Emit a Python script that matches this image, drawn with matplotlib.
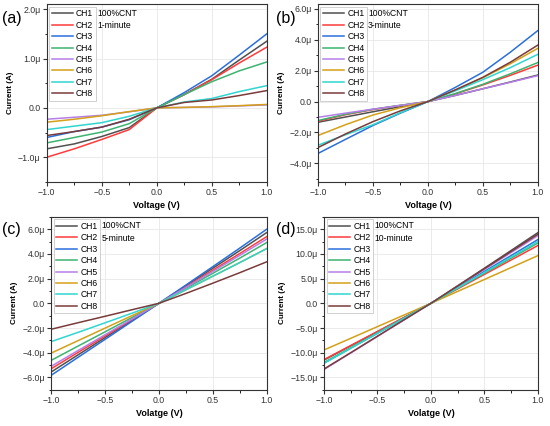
import matplotlib
matplotlib.use('Agg')
import matplotlib.pyplot as plt
from matplotlib.ticker import MultipleLocator, FuncFormatter

plt.rcParams['font.family'] = ['Liberation Sans', 'DejaVu Sans']

# voltage sweep points (V)
volts = [-1.0, -0.75, -0.5, -0.25, 0.0, 0.25, 0.5, 0.75, 1.0]
channels = ['CH1', 'CH2', 'CH3', 'CH4', 'CH5', 'CH6', 'CH7', 'CH8']
colors = ['#505050', '#ff3a3a', '#2a6fdc', '#3cb371', '#b57ee8',
          '#d4a017', '#2fd6d0', '#7a3b3b']

# currents in uA, one list per channel
cur_1min = [
    [-0.83, -0.73, -0.58, -0.40, 0, 0.27, 0.58, 0.97, 1.35],
    [-1.00, -0.83, -0.64, -0.44, 0, 0.27, 0.57, 0.91, 1.23],
    [-0.60, -0.48, -0.39, -0.24, 0, 0.31, 0.65, 1.07, 1.50],
    [-0.71, -0.60, -0.49, -0.32, 0, 0.27, 0.53, 0.75, 0.93],
    [-0.23, -0.19, -0.15, -0.08, 0, 0.01, 0.02, 0.04, 0.06],
    [-0.29, -0.23, -0.16, -0.075, 0, 0.01, 0.025, 0.045, 0.07],
    [-0.44, -0.37, -0.30, -0.17, 0, 0.12, 0.19, 0.33, 0.45],
    [-0.56, -0.48, -0.39, -0.23, 0, 0.11, 0.16, 0.25, 0.35],
]
cur_3min = [
    [-1.34, -1.00, -0.66, -0.33, 0, 0.40, 0.83, 1.27, 1.72],
    [-1.28, -0.85, -0.52, -0.25, 0, 0.50, 1.08, 1.70, 2.36],
    [-3.36, -2.45, -1.55, -0.75, 0, 0.92, 1.90, 3.20, 4.60],
    [-1.23, -0.82, -0.50, -0.24, 0, 0.52, 1.12, 1.80, 2.53],
    [-1.02, -0.75, -0.49, -0.25, 0, 0.40, 0.83, 1.25, 1.68],
    [-2.20, -1.50, -0.87, -0.40, 0, 0.75, 1.55, 2.45, 3.45],
    [-2.83, -2.15, -1.50, -0.72, 0, 0.70, 1.42, 2.20, 3.06],
    [-2.98, -2.10, -1.30, -0.60, 0, 0.76, 1.57, 2.55, 3.66],
]
cur_5min = [
    [-5.56, -4.17, -2.78, -1.39, 0, 1.41, 2.84, 4.27, 5.73],
    [-5.30, -3.97, -2.65, -1.32, 0, 1.33, 2.68, 4.03, 5.40],
    [-5.83, -4.37, -2.92, -1.46, 0, 1.48, 2.97, 4.47, 6.00],
    [-4.62, -3.46, -2.31, -1.15, 0, 1.21, 2.43, 3.66, 4.92],
    [-5.10, -3.82, -2.55, -1.27, 0, 1.28, 2.58, 3.88, 5.20],
    [-4.03, -3.02, -2.01, -1.00, 0, 1.09, 2.19, 3.30, 4.43],
    [-3.10, -2.35, -1.58, -0.80, 0, 1.10, 2.20, 3.30, 4.43],
    [-2.10, -1.57, -1.05, -0.52, 0, 0.80, 1.63, 2.48, 3.36],
]
cur_10min = [
    [-11.5, -8.6, -5.75, -2.87, 0, 3.55, 7.1, 10.7, 14.3],
    [-11.4, -8.55, -5.7, -2.85, 0, 2.92, 5.85, 8.77, 11.7],
    [-12.1, -9.07, -6.05, -3.02, 0, 3.22, 6.45, 9.67, 12.9],
    [-12.0, -9.0, -6.0, -3.0, 0, 3.05, 6.1, 9.15, 12.2],
    [-13.4, -10.05, -6.7, -3.35, 0, 3.42, 6.85, 10.27, 13.7],
    [-9.45, -7.09, -4.72, -2.36, 0, 2.41, 4.82, 7.24, 9.65],
    [-12.15, -9.1, -6.07, -3.03, 0, 3.12, 6.25, 9.37, 12.5],
    [-13.3, -10.0, -6.65, -3.32, 0, 3.5, 7.0, 10.5, 14.0],
]

panels = [
    ('(a)', '1-minute', cur_1min, (-1.5, 2.1), 1.0, 0.5, 'Voltage (V)'),
    ('(b)', '3-minute', cur_3min, (-5.2, 6.3), 2.0, 1.0, 'Voltage (V)'),
    ('(c)', '5-minute', cur_5min, (-7.0, 7.0), 2.0, 1.0, 'Volatge (V)'),
    ('(d)', '10-minute', cur_10min, (-17.5, 17.5), 5.0, 2.5, 'Volatge (V)'),
]
positions = [
    [0.085, 0.573, 0.400, 0.417],
    [0.578, 0.573, 0.400, 0.417],
    [0.093, 0.085, 0.392, 0.406],
    [0.589, 0.085, 0.389, 0.406],
]
tag_xy = [(0.004, 0.975), (0.502, 0.975), (0.004, 0.478), (0.502, 0.478)]


def ufmt(v, pos):
    if abs(v) < 1e-9:
        return '0.0'
    return ('%.1f\u03bc' % v).replace('-', '\u2212')


fig = plt.figure(figsize=(5.5, 4.26), dpi=100)
axes, legends, durs = [], [], []
for (tag, dur, data, ylim, major, minor, xlab), rect, txy in zip(panels, positions, tag_xy):
    ax = fig.add_axes(rect)
    for ch, col, vals in zip(channels, colors, data):
        ax.plot(volts, vals, color=col, lw=1.1, label=ch)
    ax.set_xlim(-1, 1)
    ax.set_ylim(*ylim)
    ax.xaxis.set_major_locator(MultipleLocator(0.5))
    ax.xaxis.set_minor_locator(MultipleLocator(0.25))
    ax.yaxis.set_major_locator(MultipleLocator(major))
    ax.yaxis.set_minor_locator(MultipleLocator(minor))
    ax.yaxis.set_major_formatter(FuncFormatter(ufmt))
    ax.tick_params(direction='out', labelsize=6.3, length=3, width=0.8, pad=1.5,
                   colors='#333333')
    ax.tick_params(which='minor', direction='out', length=1.8, width=0.6)
    ax.grid(True, color='#e8e8e8', lw=0.6)
    ax.set_axisbelow(True)
    for sp in ax.spines.values():
        sp.set_linewidth(0.8)
        sp.set_color('#333333')
    ax.set_xlabel(xlab, fontsize=6.5, fontweight='bold', labelpad=3)
    ax.set_ylabel('Current (A)', fontsize=5.8, fontweight='bold', labelpad=3)
    leg = ax.legend(loc='upper left', fontsize=6.2, frameon=True, fancybox=False,
                    borderaxespad=0.3, borderpad=0.3, labelspacing=0.28,
                    handlelength=2.4, handletextpad=0.4)
    leg.get_frame().set_edgecolor('#bbbbbb')
    leg.get_frame().set_linewidth(0.6)
    fig.text(txy[0], txy[1], tag, fontsize=11.5, va='top', ha='left')
    axes.append(ax)
    legends.append(leg)
    durs.append(dur)

# put the sample note just right of each legend box
fig.canvas.draw()
for ax, leg, dur in zip(axes, legends, durs):
    bb = leg.get_window_extent().transformed(ax.transAxes.inverted())
    ax.text(bb.x1 + 0.005, bb.y1 - 0.012, '100%CNT\n' + dur, transform=ax.transAxes,
            fontsize=6.2, va='top', ha='left', linespacing=1.45)

fig.savefig('out.png', dpi=100)
